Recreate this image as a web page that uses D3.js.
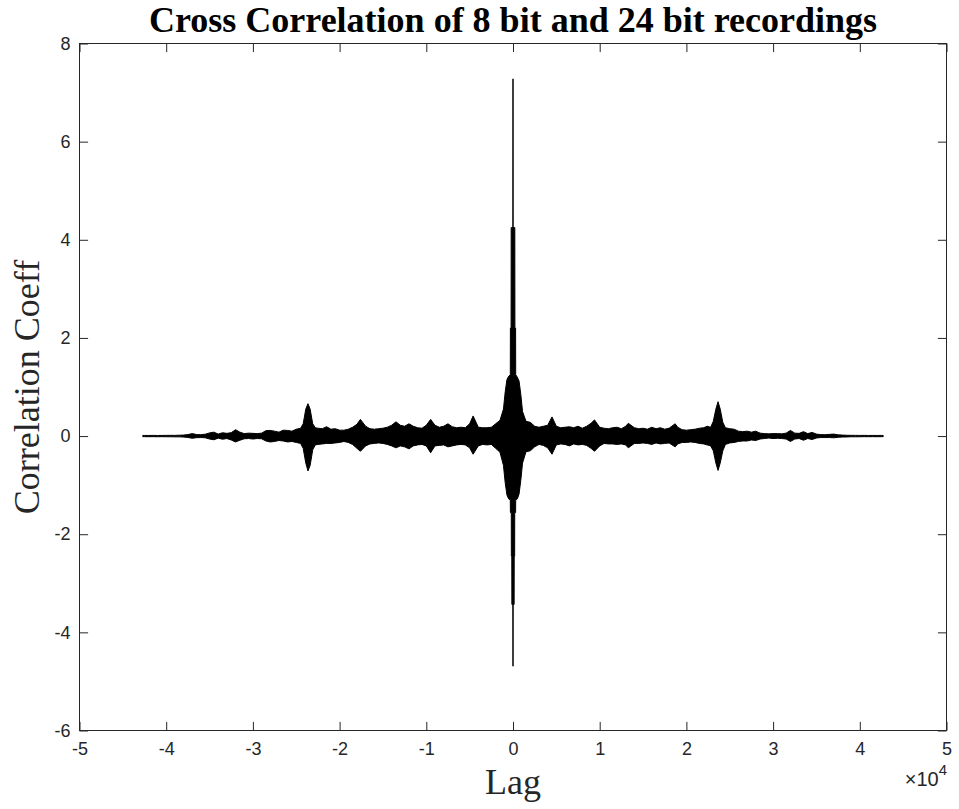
<!DOCTYPE html>
<html>
<head>
<meta charset="utf-8">
<script src="https://cdn.jsdelivr.net/npm/d3@7"></script>
<style>
  html, body { margin: 0; padding: 0; background: #fff; }
  svg { display: block; }
</style>
</head>
<body>
<svg id="chart" width="959" height="809"></svg>
<script>
// Envelope of the cross-correlation sequence: lag (samples), upper and lower bound of the trace
const lags = [
  -42700, -42500, -42000, -41500, -41000, -40500, -40000, -39500, -39000, -38500,
  -38000, -37500, -37000, -36500, -36000, -35500, -35000, -34500, -34000, -33500,
  -33000, -32500, -32000, -31500, -31000, -30500, -30000, -29500, -29000, -28500,
  -28000, -27500, -27000, -26500, -26000, -25500, -25000, -24500, -24200, -23900,
  -23650, -23400, -23100, -22800, -22500, -22000, -21500, -21000, -20500, -20000,
  -19500, -19000, -18500, -18000, -17600, -17000, -16500, -16000, -15500, -15000,
  -14500, -14000, -13500, -13000, -12500, -12000, -11500, -11000, -10500, -10000,
  -9500, -9000, -8500, -8000, -7500, -7000, -6500, -6000, -5500, -5000,
  -4600, -4000, -3500, -3000, -2500, -2000,
  -1500, -1100, -900, -700, -500, -310, -300, -220, -210, -200,
  -190, -140, -130, -10, 0, 10, 130, 140, 190, 200,
  210, 220, 300, 310, 500, 700, 900, 1100, 1500,
  2000, 2500, 3000,
  3500, 4000, 4500, 5000, 5500, 6000, 6500, 7000, 7500, 8000,
  8500, 9000, 9400, 10000, 10500, 11000, 11500, 12000, 12500, 13000,
  13300, 14000, 14500, 15000, 15500, 16000, 16500, 17000, 17500, 18000,
  18700, 19000, 19500, 20000, 20500, 21000, 21500, 22000, 22400, 22800,
  23100, 23400, 23650, 23900, 24200, 24500, 25000, 25500, 26000, 26500,
  27000, 27500, 28000, 28500, 29000, 29500, 30000, 30500, 31000, 31500,
  32000, 32500, 33000, 33500, 34000, 34500, 35000, 35500, 36000, 36500,
  37000, 37500, 38000, 38500, 39000, 39500, 40000, 40500, 41000, 41500,
  42000, 42500, 42700
];

const upperEnv = [
  0.012, 0.013, 0.012, 0.014, 0.012, 0.013, 0.014, 0.015, 0.014, 0.018,
  0.02, 0.03, 0.05, 0.032, 0.028, 0.038, 0.065, 0.08, 0.04, 0.068,
  0.055, 0.07, 0.13, 0.08, 0.05, 0.06, 0.055, 0.05, 0.06, 0.11,
  0.115, 0.1, 0.08, 0.12, 0.115, 0.1, 0.14, 0.16, 0.25, 0.55,
  0.66, 0.55, 0.25, 0.17, 0.16, 0.15, 0.19, 0.14, 0.15, 0.12,
  0.12, 0.14, 0.18, 0.24, 0.34, 0.2, 0.15, 0.14, 0.15, 0.16,
  0.18, 0.22, 0.29, 0.22, 0.2, 0.25, 0.2, 0.17, 0.16, 0.22,
  0.34, 0.22, 0.18, 0.2, 0.25, 0.19, 0.17, 0.18, 0.17, 0.25,
  0.41, 0.18, 0.17, 0.17, 0.18, 0.25,
  0.32, 0.55, 0.9, 1.15, 1.22, 1.25, 2.2, 2.2, 4.25, 4.25,
  4.25, 4.25, 4.25, 4.25, 7.28, 4.25, 4.25, 4.25, 4.25, 4.25,
  4.25, 2.2, 2.2, 1.25, 1.2, 1.12, 0.85, 0.5, 0.3,
  0.28, 0.2, 0.18,
  0.2, 0.22, 0.39, 0.2, 0.17, 0.18, 0.19, 0.17, 0.2, 0.16,
  0.2, 0.26, 0.33, 0.18, 0.16, 0.15, 0.17, 0.18, 0.15, 0.2,
  0.26, 0.17, 0.15, 0.16, 0.14, 0.18, 0.15, 0.17, 0.14, 0.16,
  0.25, 0.18, 0.13, 0.12, 0.13, 0.14, 0.16, 0.17, 0.2, 0.18,
  0.3, 0.55, 0.7, 0.55, 0.28, 0.17, 0.15, 0.14, 0.1, 0.09,
  0.1, 0.08, 0.1, 0.06, 0.05, 0.045, 0.05, 0.05, 0.045, 0.06,
  0.115, 0.06, 0.055, 0.09, 0.05, 0.075, 0.04, 0.03, 0.028, 0.035,
  0.04, 0.025, 0.02, 0.016, 0.015, 0.014, 0.013, 0.014, 0.012, 0.013,
  0.012, 0.013, 0.012
];

const lowerEnv = [
  -0.012, -0.012, -0.013, -0.012, -0.014, -0.012, -0.014, -0.014, -0.016, -0.016,
  -0.02, -0.028, -0.045, -0.033, -0.03, -0.035, -0.06, -0.075, -0.042, -0.065,
  -0.05, -0.08, -0.12, -0.085, -0.055, -0.05, -0.06, -0.05, -0.055, -0.1,
  -0.12, -0.11, -0.09, -0.1, -0.12, -0.11, -0.13, -0.15, -0.25, -0.55,
  -0.71, -0.6, -0.28, -0.18, -0.17, -0.16, -0.15, -0.15, -0.14, -0.13,
  -0.11, -0.13, -0.17, -0.25, -0.31, -0.2, -0.16, -0.15, -0.14, -0.15,
  -0.17, -0.2, -0.24, -0.2, -0.22, -0.26, -0.2, -0.18, -0.17, -0.2,
  -0.34, -0.2, -0.19, -0.18, -0.22, -0.2, -0.18, -0.17, -0.18, -0.24,
  -0.37, -0.2, -0.17, -0.18, -0.17, -0.25,
  -0.33, -0.6, -0.95, -1.2, -1.28, -1.3, -1.56, -1.56, -1.56, -1.56,
  -2.45, -2.45, -3.43, -3.43, -4.69, -3.43, -3.43, -2.45, -2.45, -1.56,
  -1.56, -1.56, -1.56, -1.3, -1.28, -1.18, -0.9, -0.55, -0.32,
  -0.3, -0.22, -0.17,
  -0.19, -0.24, -0.37, -0.18, -0.16, -0.17, -0.2, -0.16, -0.18, -0.17,
  -0.19, -0.25, -0.31, -0.2, -0.15, -0.16, -0.16, -0.17, -0.16, -0.18,
  -0.24, -0.15, -0.15, -0.14, -0.15, -0.17, -0.14, -0.16, -0.15, -0.14,
  -0.22, -0.16, -0.13, -0.13, -0.12, -0.13, -0.15, -0.16, -0.18, -0.2,
  -0.3, -0.55, -0.7, -0.55, -0.3, -0.17, -0.14, -0.13, -0.11, -0.1,
  -0.1, -0.08, -0.09, -0.06, -0.05, -0.04, -0.05, -0.045, -0.05, -0.06,
  -0.11, -0.06, -0.05, -0.085, -0.05, -0.07, -0.04, -0.03, -0.03, -0.03,
  -0.035, -0.025, -0.02, -0.018, -0.014, -0.015, -0.014, -0.012, -0.013, -0.012,
  -0.013, -0.012, -0.012
];

const xTicks = [-50000, -40000, -30000, -20000, -10000, 0, 10000, 20000, 30000, 40000, 50000];
const yTicks = [-6, -4, -2, 0, 2, 4, 6, 8];
const titleText = "Cross Correlation of 8 bit and 24 bit recordings";
const xLabelText = "Lag";
const yLabelText = "Correlation Coeff";

const svg = d3.select("#chart");
const plot = { left: 79.5, right: 946.5, top: 43.5, bottom: 730.5 };
const axisColor = "#262626";
const tickLen = 8.6;

const x = d3.scaleLinear().domain([-50000, 50000]).range([plot.left, plot.right]);
const y = d3.scaleLinear().domain([-6, 8]).range([plot.bottom, plot.top]);

const series = lags.map((lag, i) => ({ lag, hi: upperEnv[i], lo: lowerEnv[i] }));

// Filled trace envelope
const area = d3.area()
  .x(d => x(d.lag))
  .y0(d => y(d.lo))
  .y1(d => y(d.hi));

svg.append("path")
  .datum(series)
  .attr("d", area)
  .attr("fill", "#000")
  .attr("stroke", "#000")
  .attr("stroke-width", 1)
  .attr("stroke-linejoin", "round");

// Axes with inward ticks on all four sides
const tickFont = "'Liberation Sans', Arial, Helvetica, sans-serif";
const plain = d => String(d);

const gx = svg.append("g")
  .attr("transform", `translate(0,${plot.bottom})`)
  .call(d3.axisBottom(x).tickValues(xTicks).tickSizeInner(-tickLen).tickSizeOuter(0)
    .tickPadding(12).tickFormat(d => plain(d / 10000)));

const gxTop = svg.append("g")
  .attr("transform", `translate(0,${plot.top})`)
  .call(d3.axisTop(x).tickValues(xTicks).tickSizeInner(-tickLen).tickSizeOuter(0).tickFormat(""));

const gy = svg.append("g")
  .attr("transform", `translate(${plot.left},0)`)
  .call(d3.axisLeft(y).tickValues(yTicks).tickSizeInner(-tickLen).tickSizeOuter(0)
    .tickPadding(9).tickFormat(plain));

const gyRight = svg.append("g")
  .attr("transform", `translate(${plot.right},0)`)
  .call(d3.axisRight(y).tickValues(yTicks).tickSizeInner(-tickLen).tickSizeOuter(0).tickFormat(""));

[gx, gxTop, gy, gyRight].forEach(g => {
  g.select(".domain").remove();
  g.selectAll(".tick line").attr("stroke", axisColor).attr("stroke-width", 1);
  g.selectAll(".tick text")
    .attr("fill", axisColor)
    .style("font-family", tickFont)
    .style("font-size", "18px");
});

// Axes box
svg.append("rect")
  .attr("x", plot.left).attr("y", plot.top)
  .attr("width", plot.right - plot.left)
  .attr("height", plot.bottom - plot.top)
  .attr("fill", "none")
  .attr("stroke", axisColor)
  .attr("stroke-width", 1);

// Exponent multiplier for the lag axis
const expo = svg.append("text")
  .attr("x", 947).attr("y", 786)
  .attr("text-anchor", "end")
  .attr("fill", axisColor)
  .style("font-family", tickFont)
  .style("font-size", "20px");
expo.append("tspan").text("\u00d710");
expo.append("tspan").attr("dy", -11).style("font-size", "15px").text("4");

// Title and axis labels
const serif = "'Liberation Serif', 'Times New Roman', Times, serif";

svg.append("text")
  .attr("x", (plot.left + plot.right) / 2)
  .attr("y", 32)
  .attr("text-anchor", "middle")
  .attr("fill", "#000")
  .style("font-family", serif)
  .style("font-weight", "bold")
  .style("font-size", "36px")
  .text(titleText);

svg.append("text")
  .attr("x", (plot.left + plot.right) / 2)
  .attr("y", 794)
  .attr("text-anchor", "middle")
  .attr("fill", axisColor)
  .style("font-family", serif)
  .style("font-size", "36px")
  .text(xLabelText);

svg.append("text")
  .attr("transform", `translate(39,${(plot.top + plot.bottom) / 2}) rotate(-90)`)
  .attr("text-anchor", "middle")
  .attr("fill", axisColor)
  .style("font-family", serif)
  .style("font-size", "36px")
  .text(yLabelText);
</script>
</body>
</html>
